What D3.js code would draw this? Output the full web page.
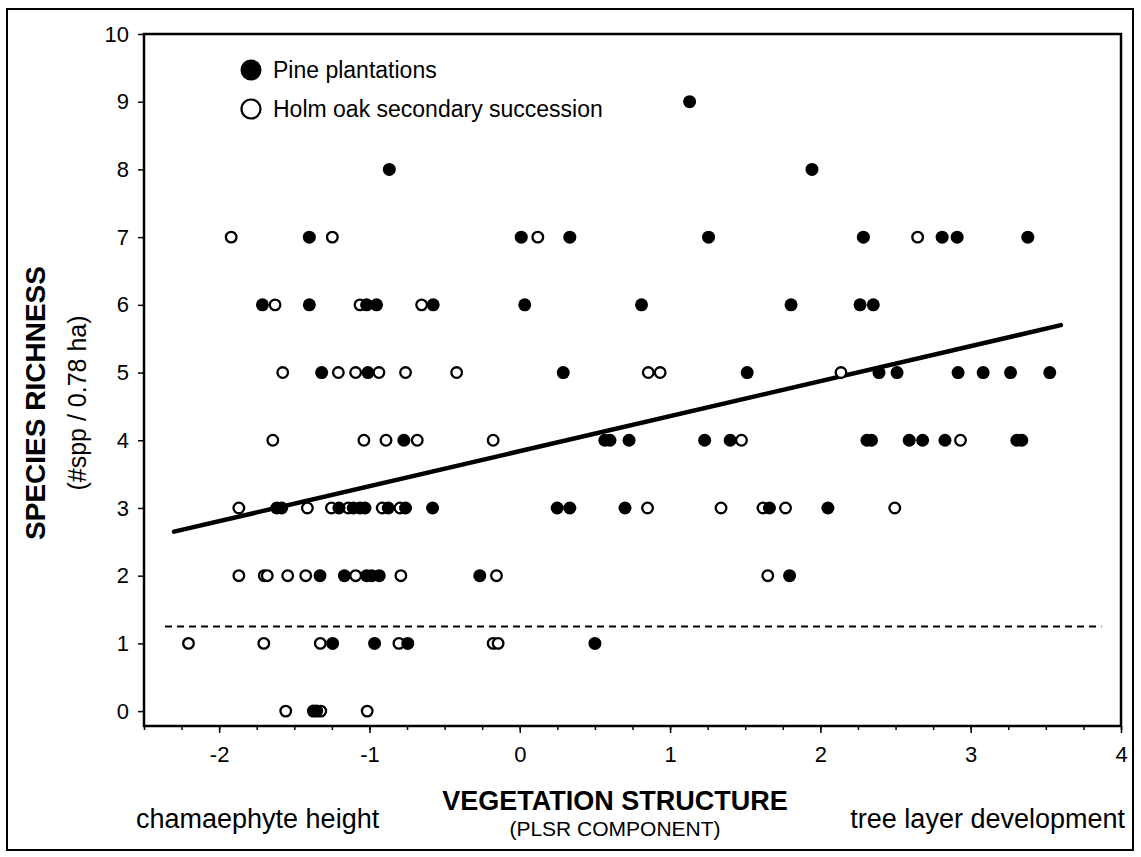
<!DOCTYPE html>
<html>
<head>
<meta charset="utf-8">
<script src="https://cdn.jsdelivr.net/npm/d3@7"></script>
<style>
  body { margin: 0; background: #fff; }
  svg { font-family: "Liberation Sans", Arial, sans-serif; }
</style>
</head>
<body>
<svg id="chart" width="1141" height="857"></svg>
<script>
// [vegetation structure (PLSR), species richness]
const pinePlantations = [
  [-1.373, 0], [-1.351, 0],
  [-1.245, 1], [-0.966, 1], [-0.745, 1], [0.50, 1],
  [-1.329, 2], [-1.167, 2], [-1.019, 2], [-0.985, 2], [-0.935, 2], [-0.266, 2], [1.795, 2],
  [-1.617, 3], [-1.584, 3], [-1.203, 3], [-1.108, 3], [-1.063, 3], [-1.030, 3], [-0.875, 3],
  [-0.76, 3], [-0.58, 3], [0.249, 3], [0.333, 3], [0.70, 3], [1.661, 3], [2.05, 3],
  [-0.771, 4], [0.566, 4], [0.60, 4], [0.727, 4], [1.23, 4], [1.40, 4], [2.31, 4], [2.34, 4],
  [2.591, 4], [2.68, 4], [2.829, 4], [3.307, 4], [3.34, 4],
  [-1.318, 5], [-1.01, 5], [0.289, 5], [1.513, 5], [2.39, 5], [2.51, 5], [2.916, 5],
  [3.083, 5], [3.265, 5], [3.526, 5],
  [-1.712, 6], [-1.40, 6], [-1.019, 6], [-0.953, 6], [-0.576, 6], [0.033, 6], [0.81, 6],
  [1.805, 6], [2.264, 6], [2.352, 6],
  [-1.40, 7], [0.01, 7], [0.333, 7], [1.256, 7], [2.286, 7], [2.81, 7], [2.91, 7], [3.38, 7],
  [-0.868, 8], [1.944, 8],
  [1.13, 9]
];

const holmOak = [
  [-1.557, 0], [-1.324, 0], [-1.015, 0],
  [-2.204, 1], [-1.703, 1], [-1.327, 1], [-0.804, 1], [-0.177, 1], [-0.144, 1],
  [-1.869, 2], [-1.70, 2], [-1.68, 2], [-1.544, 2], [-1.424, 2], [-1.092, 2], [-0.791, 2],
  [-0.155, 2], [1.65, 2],
  [-1.869, 3], [-1.413, 3], [-1.253, 3], [-1.141, 3], [-0.915, 3], [-0.797, 3], [0.85, 3],
  [1.339, 3], [1.618, 3], [1.768, 3], [2.495, 3],
  [-1.643, 4], [-1.037, 4], [-0.89, 4], [-0.682, 4], [-0.177, 4], [1.475, 4], [2.932, 4],
  [-1.577, 5], [-1.207, 5], [-1.092, 5], [-0.937, 5], [-0.76, 5], [-0.42, 5], [0.855, 5],
  [0.934, 5], [2.137, 5],
  [-1.628, 6], [-1.063, 6], [-0.653, 6],
  [-1.92, 7], [-1.247, 7], [0.12, 7], [2.647, 7]
];

// regression line and dashed reference line
const fitLine = [[-2.30, 2.65], [3.60, 5.70]];
const refLine = [[-2.36, 1.25], [3.87, 1.25]];

const xTicks = [-2, -1, 0, 1, 2, 3, 4];
const yTicks = [0, 1, 2, 3, 4, 5, 6, 7, 8, 9, 10];
const legendLabels = ["Pine plantations", "Holm oak secondary succession"];

const draw = () => {
  const svg = d3.select('#chart');
  const left = 144, right = 1121, top = 34, bottom = 726;

  const xScale = d3.scaleLinear().domain([-2.5, 4]).range([left, right]);
  const yScale = d3.scaleLinear().domain([-0.22, 10]).range([bottom, top]);

  // outer border of the figure
  svg.append('rect')
    .attr('x', 7).attr('y', 9).attr('width', 1126).attr('height', 841)
    .attr('fill', 'none').attr('stroke', '#000').attr('stroke-width', 2);

  // y axis
  const yAxis = svg.append('g')
    .attr('transform', `translate(${left},0)`)
    .call(d3.axisLeft(yScale).tickValues(yTicks).tickSize(6).tickPadding(9).tickFormat(d3.format('d')));
  yAxis.select('.domain').remove();
  yAxis.selectAll('text').attr('font-size', 22).attr('font-family', '"Liberation Sans", Arial, sans-serif');
  yAxis.selectAll('line').attr('stroke-width', 1.5);

  // x axis, minor ticks every 0.25
  const minor = d3.range(-2.5, 4.001, 0.25);
  const xMinor = svg.append('g')
    .attr('transform', `translate(0,${bottom})`)
    .call(d3.axisBottom(xScale).tickValues(minor).tickSize(4).tickFormat(''));
  xMinor.select('.domain').remove();
  xMinor.selectAll('line').attr('stroke-width', 1.5);

  const xAxis = svg.append('g')
    .attr('transform', `translate(0,${bottom})`)
    .call(d3.axisBottom(xScale).tickValues(xTicks).tickSize(7).tickPadding(13)
      .tickFormat(d => d < 0 ? '-' + Math.abs(d) : d));
  xAxis.select('.domain').remove();
  xAxis.selectAll('text').attr('font-size', 22).attr('font-family', '"Liberation Sans", Arial, sans-serif');
  xAxis.selectAll('line').attr('stroke-width', 1.5);

  // plot frame
  svg.append('rect')
    .attr('x', left).attr('y', top).attr('width', right - left).attr('height', bottom - top)
    .attr('fill', 'none').attr('stroke', '#000').attr('stroke-width', 2.5);

  const line = d3.line().x(d => xScale(d[0])).y(d => yScale(d[1]));

  svg.append('path')
    .datum(refLine)
    .attr('d', line)
    .attr('fill', 'none').attr('stroke', '#000').attr('stroke-width', 2)
    .attr('stroke-dasharray', '7,5');

  svg.append('path')
    .datum(fitLine)
    .attr('d', line)
    .attr('fill', 'none').attr('stroke', '#000').attr('stroke-width', 4.5)
    .attr('stroke-linecap', 'round');

  svg.selectAll('.oak')
    .data(holmOak)
    .enter().append('circle')
    .attr('class', 'oak')
    .attr('cx', d => xScale(d[0]))
    .attr('cy', d => yScale(d[1]))
    .attr('r', 5.3)
    .attr('fill', '#fff')
    .attr('stroke', '#000')
    .attr('stroke-width', 2.3);

  svg.selectAll('.pine')
    .data(pinePlantations)
    .enter().append('circle')
    .attr('class', 'pine')
    .attr('cx', d => xScale(d[0]))
    .attr('cy', d => yScale(d[1]))
    .attr('r', 6.5)
    .attr('fill', '#000');

  // legend
  const legend = svg.append('g');
  legendLabels.forEach((label, i) => {
    const y = 70 + i * 39;
    legend.append('circle')
      .attr('cx', 251).attr('cy', y)
      .attr('r', i === 0 ? 10.5 : 9.5)
      .attr('fill', i === 0 ? '#000' : '#fff')
      .attr('stroke', '#000').attr('stroke-width', i === 0 ? 0 : 2.2);
    legend.append('text')
      .attr('x', 273).attr('y', y)
      .attr('dy', '0.36em')
      .attr('font-size', 23)
      .text(label);
  });

  // axis titles
  svg.append('text')
    .attr('transform', 'translate(45,403) rotate(-90)')
    .attr('text-anchor', 'middle')
    .attr('font-size', 28).attr('font-weight', 'bold')
    .text('SPECIES RICHNESS');
  svg.append('text')
    .attr('transform', 'translate(86,403) rotate(-90)')
    .attr('text-anchor', 'middle')
    .attr('font-size', 25)
    .text('(#spp / 0.78 ha)');

  svg.append('text')
    .attr('x', 615).attr('y', 810)
    .attr('text-anchor', 'middle')
    .attr('font-size', 27).attr('font-weight', 'bold')
    .text('VEGETATION STRUCTURE');
  svg.append('text')
    .attr('x', 615).attr('y', 836)
    .attr('text-anchor', 'middle')
    .attr('font-size', 21)
    .text('(PLSR COMPONENT)');

  svg.append('text')
    .attr('x', 136).attr('y', 828)
    .attr('font-size', 27)
    .text('chamaephyte height');
  svg.append('text')
    .attr('x', 1125).attr('y', 828)
    .attr('text-anchor', 'end')
    .attr('font-size', 27)
    .text('tree layer development');
};

draw();
</script>
</body>
</html>
